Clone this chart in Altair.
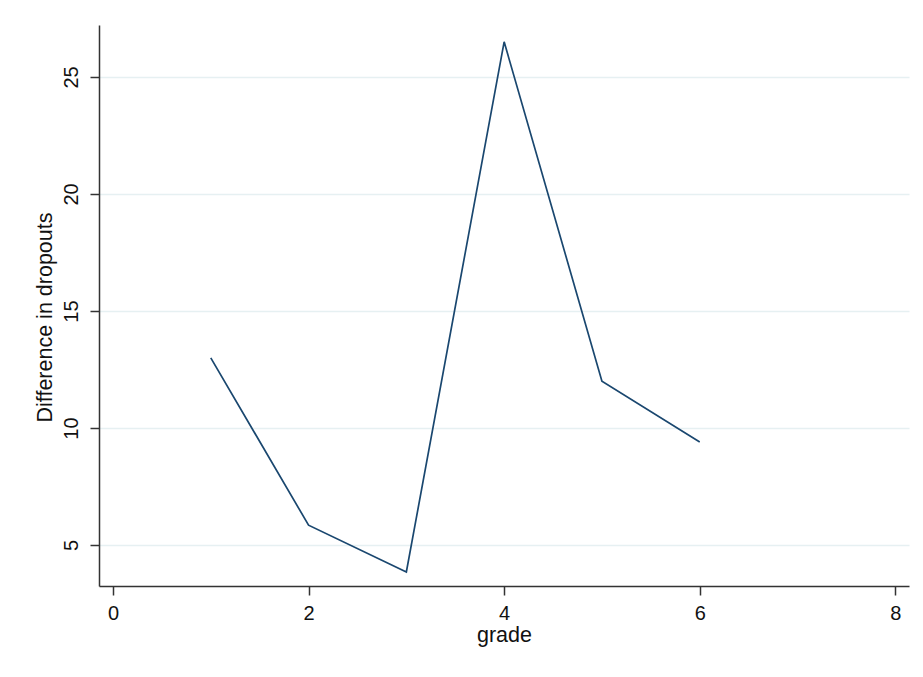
import altair as alt
import pandas as pd

grade = [1, 2, 3, 4, 5, 6]
diff = [13.0, 5.85, 3.85, 26.5, 12.0, 9.4]
x_ticks = [0, 2, 4, 6, 8]
y_ticks = [5, 10, 15, 20, 25]

df = pd.DataFrame({"grade": grade, "diff": diff})

FONT = "Liberation Sans"

line = alt.Chart(df).mark_line(color="#1a476f", strokeWidth=1.7).encode(
    x=alt.X(
        "grade:Q",
        scale=alt.Scale(domain=[-0.143, 8.14], nice=False, zero=False),
        axis=alt.Axis(
            values=x_ticks,
            title="grade",
            grid=False,
            tickSize=9,
            labelPadding=8,
            labelFontSize=20,
            titleFontSize=21.5,
            titleFontWeight="normal",
            titleBaseline="middle",
            titleY=49,
            domainColor="#333333",
            tickColor="#333333",
            domainWidth=1.5,
            tickWidth=1.5,
            labelColor="#111111",
            titleColor="#111111",
            labelFont=FONT,
            titleFont=FONT,
        ),
    ),
    y=alt.Y(
        "diff:Q",
        scale=alt.Scale(domain=[3.25, 27.22], nice=False, zero=False),
        axis=alt.Axis(
            values=y_ticks,
            title="Difference in dropouts",
            grid=True,
            gridColor="#e6f0f2",
            gridWidth=1.5,
            tickSize=9,
            labelAngle=270,
            labelAlign="center",
            labelBaseline="middle",
            labelPadding=19,
            labelFontSize=20,
            titleFontSize=21.5,
            titleFontWeight="normal",
            titleAngle=270,
            titleAlign="center",
            titleBaseline="middle",
            titleX=-54,
            titleY=292,
            domainColor="#333333",
            tickColor="#333333",
            domainWidth=1.5,
            tickWidth=1.5,
            labelColor="#111111",
            titleColor="#111111",
            labelFont=FONT,
            titleFont=FONT,
        ),
    ),
)

chart = line.properties(
    width=810,
    height=561,
    autosize=alt.AutoSizeParams(type="none"),
    padding={"left": 91, "top": 17, "right": 6, "bottom": 83},
    background="white",
).configure_view(stroke=None)

chart.save("out.html", embed_options={"renderer": "svg", "actions": False})
